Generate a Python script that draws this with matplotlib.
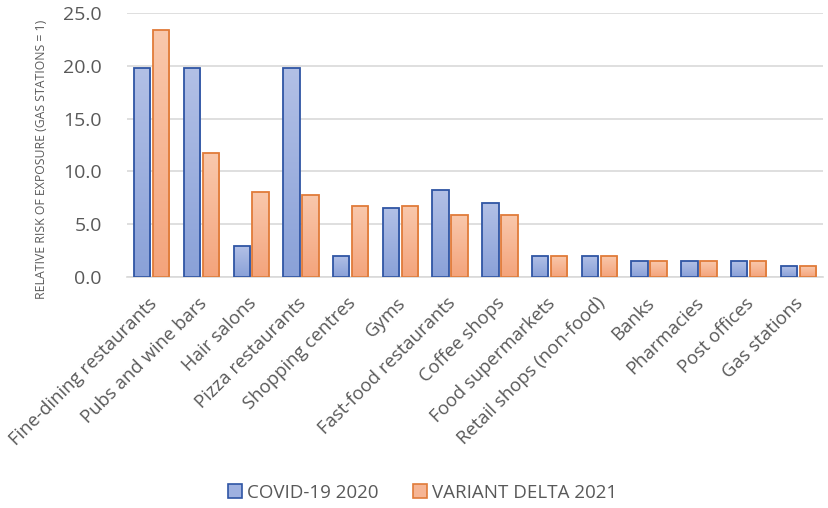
import numpy as np
import matplotlib.pyplot as plt
from matplotlib.patches import Patch
from matplotlib.colors import LinearSegmentedColormap

plt.rcParams['font.family'] = ['Open Sans', 'DejaVu Sans']

# data
categories = ['Fine-dining restaurants', 'Pubs and wine bars', 'Hair salons',
              'Pizza restaurants', 'Shopping centres', 'Gyms',
              'Fast-food restaurants', 'Coffee shops', 'Food supermarkets',
              'Retail shops (non-food)', 'Banks', 'Pharmacies', 'Post offices',
              'Gas stations']
covid_2020 = [19.8, 19.8, 2.9, 19.8, 2.0, 6.5, 8.2, 7.0, 2.0, 2.0, 1.5, 1.5, 1.5, 1.0]
delta_2021 = [23.4, 11.7, 8.0, 7.8, 6.7, 6.7, 5.9, 5.9, 2.0, 2.0, 1.5, 1.5, 1.5, 1.0]
y_ticks = [0, 5, 10, 15, 20, 25]

txt = '#595959'

fig = plt.figure(figsize=(8.29, 5.08), dpi=100)
ax = fig.add_axes([0.153, 0.455, 0.840, 0.519])

x = np.arange(len(categories))
w = 0.33
gap = 0.05


def grad_bars(xs, vals, top_col, bot_col, edge):
    bars = ax.bar(xs, vals, width=w, facecolor='none', edgecolor=edge,
                  linewidth=1.3, zorder=3)
    grad = np.linspace(0, 1, 100).reshape(-1, 1)
    cmap = LinearSegmentedColormap.from_list('g', [bot_col, top_col])
    for b in bars:
        x0, y0 = b.get_x(), b.get_y()
        im = ax.imshow(grad, cmap=cmap, aspect='auto', origin='lower',
                       extent=[x0, x0 + b.get_width(), y0, y0 + b.get_height()],
                       zorder=2)
        im.set_clip_path(b)
    return bars


grad_bars(x - w / 2 - gap / 2, covid_2020, '#b2c0e6', '#8aa1d8', '#2f55a4')
grad_bars(x + w / 2 + gap / 2, delta_2021, '#f9c8ac', '#f4a47c', '#e07b39')

ax.set_xlim(-0.5, len(categories) - 0.5)
ax.set_ylim(0, 25)
ax.set_yticks(y_ticks)
ax.set_yticklabels([f'{v:.1f}' for v in y_ticks], fontsize=14, color=txt)
ax.yaxis.grid(True, color='#d9d9d9', linewidth=1.2, zorder=0)
ax.set_axisbelow(True)
for s in ['top', 'right', 'left']:
    ax.spines[s].set_visible(False)
ax.spines['bottom'].set_color('#d9d9d9')
ax.spines['bottom'].set_linewidth(1.2)
ax.tick_params(axis='both', length=0)
ax.tick_params(axis='y', pad=18)

ax.set_xticks(x + 0.05)
ax.set_xticklabels(categories, rotation=45, ha='right', va='center',
                   rotation_mode='anchor', fontsize=13.3, color=txt)
ax.tick_params(axis='x', pad=17)

ax.set_ylabel('RELATIVE RISK OF EXPOSURE (GAS STATIONS = 1)', fontsize=8.8,
              color=txt)
ax.yaxis.set_label_coords(-0.113, 0.445)

handles = [Patch(facecolor='#9fb1e0', edgecolor='#2f55a4', linewidth=1.2),
           Patch(facecolor='#f6b594', edgecolor='#e07b39', linewidth=1.2)]
fig.legend(handles, ['COVID-19 2020', 'VARIANT DELTA 2021'], loc='center',
           bbox_to_anchor=(0.51, 0.03), ncol=2, frameon=False, fontsize=13.5,
           labelcolor=txt, handlelength=0.75, handleheight=0.75, columnspacing=1.85,
           handletextpad=0.25)

fig.savefig('out.png', dpi=100)
